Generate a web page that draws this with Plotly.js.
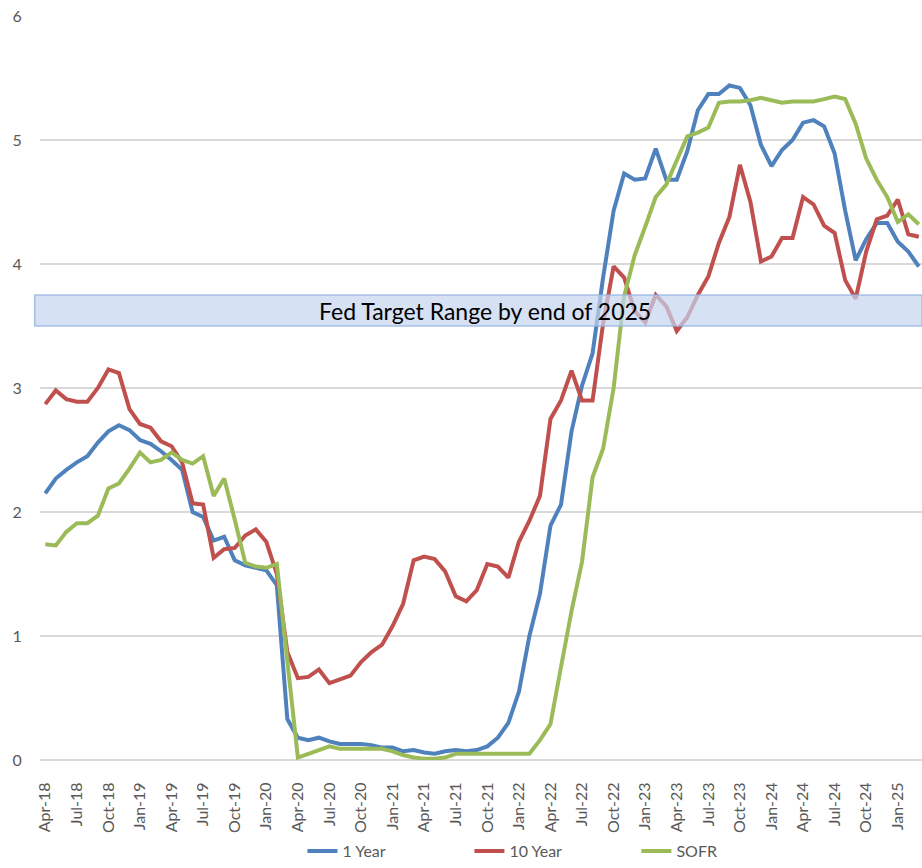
<!DOCTYPE html>
<html>
<head>
<meta charset="utf-8">
<script src="https://cdn.plot.ly/plotly-3.0.1.min.js"></script>
<style>html,body{margin:0;padding:0;background:#fff;}#chart{width:922px;height:868px;}</style>
</head>
<body>
<div id="chart"></div>
<script>
var months = ["Apr-18","May-18","Jun-18","Jul-18","Aug-18","Sep-18","Oct-18","Nov-18","Dec-18",
"Jan-19","Feb-19","Mar-19","Apr-19","May-19","Jun-19","Jul-19","Aug-19","Sep-19","Oct-19","Nov-19","Dec-19",
"Jan-20","Feb-20","Mar-20","Apr-20","May-20","Jun-20","Jul-20","Aug-20","Sep-20","Oct-20","Nov-20","Dec-20",
"Jan-21","Feb-21","Mar-21","Apr-21","May-21","Jun-21","Jul-21","Aug-21","Sep-21","Oct-21","Nov-21","Dec-21",
"Jan-22","Feb-22","Mar-22","Apr-22","May-22","Jun-22","Jul-22","Aug-22","Sep-22","Oct-22","Nov-22","Dec-22",
"Jan-23","Feb-23","Mar-23","Apr-23","May-23","Jun-23","Jul-23","Aug-23","Sep-23","Oct-23","Nov-23","Dec-23",
"Jan-24","Feb-24","Mar-24","Apr-24","May-24","Jun-24","Jul-24","Aug-24","Sep-24","Oct-24","Nov-24","Dec-24",
"Jan-25","Feb-25","Mar-25"];

var tickLabels = ["Apr-18","Jul-18","Oct-18","Jan-19","Apr-19","Jul-19","Oct-19","Jan-20","Apr-20","Jul-20",
"Oct-20","Jan-21","Apr-21","Jul-21","Oct-21","Jan-22","Apr-22","Jul-22","Oct-22","Jan-23","Apr-23","Jul-23",
"Oct-23","Jan-24","Apr-24","Jul-24","Oct-24","Jan-25"];

var oneYear = [2.15,2.27,2.34,2.40,2.45,2.56,2.65,2.70,2.66,
2.58,2.55,2.49,2.42,2.34,2.00,1.96,1.77,1.80,1.61,1.57,1.55,
1.53,1.41,0.33,0.18,0.16,0.18,0.15,0.13,0.13,0.13,0.12,0.10,
0.10,0.07,0.08,0.06,0.05,0.07,0.08,0.07,0.08,0.11,0.18,0.30,
0.55,1.00,1.34,1.89,2.06,2.65,3.02,3.28,3.89,4.43,4.73,4.68,
4.69,4.93,4.68,4.68,4.91,5.24,5.37,5.37,5.44,5.42,5.28,4.96,
4.79,4.92,5.00,5.14,5.16,5.11,4.89,4.43,4.03,4.20,4.33,4.33,
4.18,4.10,3.98];

var tenYear = [2.87,2.98,2.91,2.89,2.89,3.00,3.15,3.12,2.83,
2.71,2.68,2.57,2.53,2.40,2.07,2.06,1.63,1.70,1.71,1.81,1.86,
1.76,1.50,0.87,0.66,0.67,0.73,0.62,0.65,0.68,0.79,0.87,0.93,
1.08,1.26,1.61,1.64,1.62,1.52,1.32,1.28,1.37,1.58,1.56,1.47,
1.76,1.93,2.13,2.75,2.90,3.14,2.90,2.90,3.52,3.98,3.89,3.62,
3.53,3.75,3.66,3.46,3.57,3.75,3.90,4.17,4.38,4.80,4.50,4.02,
4.06,4.21,4.21,4.54,4.48,4.31,4.25,3.87,3.72,4.10,4.36,4.39,
4.52,4.24,4.22];

var sofr = [1.74,1.73,1.84,1.91,1.91,1.97,2.19,2.23,2.35,
2.48,2.40,2.42,2.48,2.42,2.39,2.45,2.13,2.27,1.94,1.59,1.56,
1.55,1.58,0.80,0.02,0.05,0.08,0.11,0.09,0.09,0.09,0.09,0.09,
0.07,0.04,0.02,0.01,0.01,0.02,0.05,0.05,0.05,0.05,0.05,0.05,
0.05,0.05,0.16,0.29,0.75,1.20,1.60,2.28,2.51,3.00,3.74,4.07,
4.30,4.54,4.64,4.83,5.03,5.06,5.10,5.30,5.31,5.31,5.32,5.34,
5.32,5.30,5.31,5.31,5.31,5.33,5.35,5.33,5.13,4.85,4.68,4.54,
4.34,4.40,4.32];

var seriesNames = ["1 Year","10 Year","SOFR"];
var bandLow = 3.5, bandHigh = 3.75;
var bandLabel = "Fed Target Range by end of 2025";

var font = "Lato, 'Open Sans', sans-serif";
var colors = ["#4F81BD","#C0504D","#9BBB59"];
var series = [oneYear, tenYear, sofr];

var traces = series.map(function(s, i){
  return {x: months, y: s, type: "scatter", mode: "lines", name: seriesNames[i],
    line: {color: colors[i], width: 4}, hoverinfo: "skip"};
});

var layout = {
  width: 922, height: 868,
  margin: {l: 40, r: 0, t: 16, b: 108},
  paper_bgcolor: "#fff", plot_bgcolor: "#fff",
  showlegend: true,
  legend: {orientation: "h", xref: "container", yref: "container",
    x: 0.328, xanchor: "left", y: 0.0, yanchor: "bottom", bgcolor: "rgba(0,0,0,0)",
    entrywidth: 122, entrywidthmode: "pixels",
    font: {family: font, size: 16, color: "#595959"}},
  xaxis: {type: "category", range: [-0.5, 83.3], tickmode: "array", tickvals: tickLabels, ticktext: tickLabels,
    tickangle: -90, showgrid: false, zeroline: false, showline: false, automargin: false,
    ticks: "outside", ticklen: 15, tickcolor: "rgba(0,0,0,0)",
    tickfont: {family: font, size: 16, color: "#595959"}},
  yaxis: {range: [0, 6], dtick: 1, tick0: 0, gridcolor: "#D9D9D9", gridwidth: 1.5, automargin: false,
    zeroline: true, zerolinecolor: "#D9D9D9", zerolinewidth: 1.5, showline: false,
    ticks: "outside", ticklen: 14, tickcolor: "rgba(0,0,0,0)",
    tickfont: {family: font, size: 16, color: "#595959"}},
  shapes: [{type: "rect", xref: "paper", yref: "y", x0: -0.006, x1: 1, y0: bandLow, y1: bandHigh,
    fillcolor: "rgba(197,212,240,0.7)", line: {color: "rgba(150,177,226,0.8)", width: 1.5}, layer: "above"}],
  annotations: [{xref: "paper", yref: "y", x: 0.5045, y: (bandLow + bandHigh) / 2, text: bandLabel,
    showarrow: false, font: {family: font, size: 23, color: "#000"}}]
};

Plotly.newPlot("chart", traces, layout, {displayModeBar: false, staticPlot: true});
</script>
</body>
</html>
